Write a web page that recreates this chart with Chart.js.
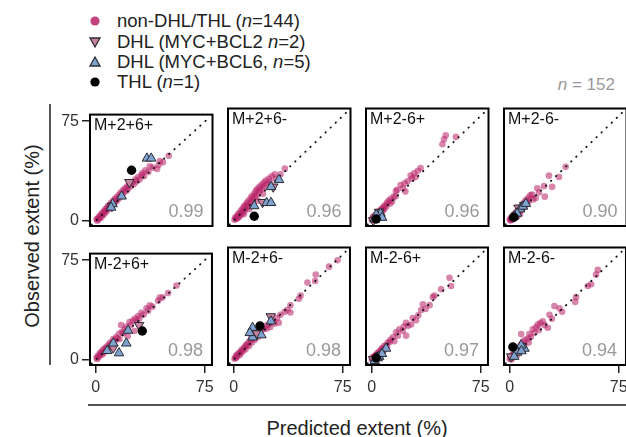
<!DOCTYPE html>
<html>
<head>
<meta charset="utf-8">
<script src="https://cdn.jsdelivr.net/npm/chart.js@4"></script>
<style>
  html, body { margin: 0; padding: 0; background: #fff; }
  body { width: 626px; height: 437px; position: relative; overflow: hidden;
         font-family: "Liberation Sans", Arial, sans-serif; color: #222; }
  canvas.panel { position: absolute; }
  .leg-row { position: absolute; left: 88px; height: 20px; display: flex; align-items: center; font-size: 18.5px; }
  .leg-row svg { width: 14px; height: 14px; margin-right: 15px; }
  .abs { position: absolute; white-space: nowrap; }
</style>
</head>
<body>
<div class="leg-row" style="top:11px"><svg viewBox="0 0 14 14"><circle cx="7" cy="7" r="4.6" fill="#c2437f"/></svg><span>non-DHL/THL (<i>n</i>=144)</span></div>
<div class="leg-row" style="top:32px"><svg viewBox="0 0 14 14"><polygon points="2,3 12,3 7,12" fill="#c9829f" stroke="#2a2a33" stroke-width="1.3"/></svg><span>DHL (MYC+BCL2 <i>n</i>=2)</span></div>
<div class="leg-row" style="top:52px"><svg viewBox="0 0 14 14"><polygon points="2,11 12,11 7,2" fill="#7fa3d1" stroke="#2a2a33" stroke-width="1.3"/></svg><span>DHL (MYC+BCL6, <i>n</i>=5)</span></div>
<div class="leg-row" style="top:72px"><svg viewBox="0 0 14 14"><circle cx="7" cy="7" r="4.6" fill="#000"/></svg><span>THL (<i>n</i>=1)</span></div>

<div class="abs" style="right:11px; top:75px; font-size:17px; color:#999;"><i>n</i> = 152</div>

<div class="abs" style="left:49px; top:104px; width:1.5px; height:261px; background:#555;"></div>
<div class="abs" style="left:32px; top:236px; font-size:20px; transform:translate(-50%,-50%) rotate(-90deg);">Observed extent (%)</div>
<div class="abs" style="left:88px; top:404px; width:540px; height:1.5px; background:#555;"></div>
<div class="abs" style="left:357px; top:428px; font-size:20px; transform:translate(-50%,-50%);">Predicted extent (%)</div>

<script>
const panelNames = ["M+2+6+", "M+2+6-", "M+2-6+", "M+2-6-", "M-2+6+", "M-2+6-", "M-2-6+", "M-2-6-"];
const rValues = ["0.99", "0.96", "0.96", "0.90", "0.98", "0.98", "0.97", "0.94"];
const tickValues = [0, 75];
const diagLine = [-3, 78];

// non-DHL/THL cases, one list of [predicted, observed] per panel
const otherPts = [
  [[0.5,1],[1,0],[1.5,2],[2,1],[2.5,3.5],[3,2],[3.5,4.5],[4,3],[4.5,6],[5,4.5],[5.5,7],[6,5.5],[6.5,8.5],[7,7],[7.5,9.5],[8,8],[8.5,11],[9,9.5],[9.5,12],[10,10.5],[10.5,13.5],[11,12],[12,15],[12.5,13],[13,16.5],[14,14.5],[14.5,18],[15,16],[16,19.5],[16.5,17.5],[17,21],[18,19.5],[18.5,23],[19,21],[20,24.5],[21,22.5],[21.5,26],[22,24],[23,27.5],[24,26],[25,29],[26,27.5],[27,31],[28,29.5],[29,33],[30,31],[31.4,34.4],[32,36],[33,33.5],[34,38],[36,36.7],[37,41],[39,40],[42,39],[43,42],[44,45],[46,44],[50,49]],
  [[0.5,0.5],[1,2],[1.5,1],[2,3],[2.5,1.5],[3,4.5],[3.5,2.5],[4,5.5],[4.5,3.5],[5,7],[5.5,5],[6,8.5],[6.5,6],[7,10],[7,4.5],[7.5,7.5],[8,11],[8.5,9],[9,12.5],[9.5,10],[10,14],[10.5,8],[11,12],[11.5,16],[12,13.5],[12.5,17.5],[13,15],[13.5,11],[14,19],[14.5,16.5],[15,21],[15.5,18],[16,22.5],[16.5,14],[17,20],[17.5,24],[18,21.5],[19,25.5],[19.5,23],[20,19],[20.5,27],[21,24.5],[22,28.5],[23,26],[24,30],[25,27.5],[26,31.5],[28,33],[29,30],[32,33],[35,37]],
  [[0,0.5],[0.5,0],[0.5,1.5],[1,0.5],[1,2.5],[1.5,1],[2,2],[2,3.5],[2.5,0.5],[2.5,2.5],[3,1.5],[3,4],[3.5,3],[4,2],[4,5],[4.5,3.5],[5,4.5],[5,6.5],[5.5,5.5],[6,4],[6,7.5],[6.5,6],[7,8.5],[7.5,7],[8,9.5],[8.5,8],[9,11],[10,10],[10.5,12.5],[11.5,14],[12.5,12],[13,15.5],[14,13.5],[15,17],[16.3,17.2],[16.5,21],[17.4,21.8],[19.7,25.3],[21.5,23],[23,20.6],[22.5,26.5],[24.5,28],[26.6,32],[27.5,30],[29,33.7],[30,31],[31.5,35.5],[33.5,37.4],[48.4,54.4],[49.5,58],[50.7,60.8],[57.6,59.7]],
  [[0,0.5],[0.5,0],[0.5,1.5],[1,1],[1.5,2.5],[1.5,0.5],[2,2],[2.5,3.5],[2.5,1],[3,2.5],[3,4.5],[3.5,3.5],[4,2],[4,5.5],[4.5,4],[5,6.5],[5,3],[5.5,5],[6,7.5],[6.5,6],[7,9],[7,4.5],[7.5,7.5],[8,10],[8.5,8],[9,11.5],[9.5,9.5],[10,13],[10.5,10.5],[11,14.5],[12,12],[12.5,16],[13,14],[14,18],[15.3,18.4],[16,15],[17.7,16],[18.8,23],[20,20],[23.4,24.5],[24,17],[26.8,32],[29,24],[33.7,31],[38.3,38.3]],
  [[0.5,1.5],[1,0.5],[1.5,3],[2,2],[2.8,5],[3,3.5],[4,6],[4.5,4],[5,7.5],[5.5,5.5],[6.2,8.5],[7,7],[7.5,10],[8,8.5],[9,11.5],[9.5,9.5],[10,13],[11,11],[11.9,13.1],[12,15.5],[13,14],[14,17],[15,16],[16.3,15.4],[16,19.5],[17.4,26.2],[18,21],[19,20],[20,23],[21,25],[22,17.7],[22,22],[23.2,28.4],[24,26],[25.5,29.6],[26.6,21.6],[27,31],[28,29],[29.1,33],[30,31],[31.4,35.3],[33,34],[34.9,38.8],[36,37],[37.2,41],[39,40],[42.9,44.5],[44,46.8],[46,47],[49.8,50.2],[55.5,56]],
  [[0.5,0.5],[1.1,1],[1.5,2.5],[2,1.5],[2.5,3.5],[3.4,4.4],[4,3],[4.5,5.5],[5,4.5],[5.5,7],[6,6],[6.9,7.8],[7.5,9],[8,7],[8.5,10.5],[9.2,10.1],[10,12],[10.5,9.5],[11.5,13.6],[12,15],[12.5,12],[13.8,17],[14.5,14],[15.5,18],[16.5,16],[17,20],[18.4,19.3],[19,22],[20.6,21.6],[21.5,24],[22.5,22],[24.1,25],[25,23],[27.5,27.3],[28,25.5],[29.8,29.6],[31,26.2],[32.1,31.9],[35,34],[37,35.5],[39,33.5],[39,38.7],[44.8,43.3],[46,45.6],[50.7,54.9],[56,56],[56.4,60.6],[65.6,66.3],[71.4,70.9]],
  [[0,0.5],[0.5,-0.5],[0.5,1.5],[1,0.5],[1.5,2],[1.5,0],[2,1],[2.5,2.5],[3,0.5],[3,3.5],[3.5,2],[4,4.5],[4.5,3],[5,5.5],[5.5,4],[6,6.5],[6.5,5],[7,8],[7.6,7.8],[8,6],[8.5,9.5],[9.9,10.1],[10.5,8.5],[11,12],[12.2,12.4],[13,14],[14.5,15.8],[15.5,13],[16.7,19.3],[18,17],[19,21.6],[21.3,20.4],[22,23.5],[23.6,17],[23.6,26.2],[25,24],[27.1,25],[28.2,29.6],[30.5,28],[32,31.5],[34,35.3],[35.2,39.4],[37,36],[39.8,38.8],[42,44.5],[43.1,45.6],[47.7,50.2],[54.6,52.5],[53.5,58.3]],
  [[0,0.5],[0.5,1.5],[1,0],[1,2.5],[1.5,1],[2,3],[2,1.5],[2.5,4],[3,2.5],[3,5],[3.5,3.5],[4,6],[4.5,4.5],[5,7],[5,3],[5.5,5.5],[6,8],[6.5,6.5],[7,9.5],[7.5,7.5],[7.8,18.1],[8,11],[8.5,9],[9,12.5],[10,10.5],[10.5,14],[12.4,14.7],[13,12],[13.5,18.1],[14.5,16],[15.8,21.6],[17,19],[18,23],[19.3,25],[20,21],[21,26],[22.7,27.3],[24,24.5],[26.2,22.6],[27.3,31.9],[29,29],[30.7,38.1],[34.2,36.5],[36,34],[45,41.1],[45.6,44.5],[53.7,52.5],[56,53.7],[59.4,60.6],[60.6,64]]
];

// DHL MYC+BCL2 (down triangles)
const bcl2Pts = [
  [[23,29],[11,11]],
  [[27,24],[19.7,13]],
  [[1,0],[5,6]],
  [[6,9],[10,11]],
  [[29.8,26],[12,9]],
  [[25.5,30.7],[16,18.5]],
  [[1,0],[6,3]],
  [[1,2],[4,6]]
];

// DHL MYC+BCL6 (up triangles)
const bcl6Pts = [
  [[35,47],[38,47],[17.7,18.4],[11.5,12.6],[10.5,10]],
  [[31,29],[25.5,24],[14,10.3],[22.5,12.6],[25.5,12.6]],
  [[2,1],[4,3],[6,5],[3,4],[7,2]],
  [[7,8],[9,10],[11,12],[5,5],[3,3]],
  [[22.2,22],[21,12.4],[12,12.4],[7.8,6.7],[16,5]],
  [[25.5,27.3],[12.9,22.7],[12.9,15.8],[19,17.4],[11,19]],
  [[9.8,7.8],[2,-1],[5,2],[7,4],[4,1]],
  [[10.1,7.8],[7.8,10.1],[5,5],[3,2],[8,6]]
];

// THL
const thlPts = [[24.5,38], [14,3], [3,1], [2.7,2.3], [32,21.6], [18,23.9], [3,1], [2.1,8.9]];

const FONT = "'Liberation Sans', Arial, sans-serif";
const colLefts = [90, 228, 366, 504];
const rowTops = [104, 243];

function toXY(list) {
  return list.map(([x, y]) => ({ x, y }));
}

const panelDecor = {
  id: "panelDecor",
  afterDraw(chart, args, opts) {
    const { ctx, chartArea: a } = chart;
    ctx.save();
    ctx.strokeStyle = "#000";
    ctx.lineWidth = 2;
    ctx.strokeRect(a.left, a.top, a.right - a.left, a.bottom - a.top);
    ctx.fillStyle = "#111";
    ctx.font = `16px ${FONT}`;
    ctx.textAlign = "left";
    ctx.textBaseline = "top";
    ctx.fillText(opts.name, a.left + 4, a.top + 3);
    ctx.fillStyle = "#999";
    ctx.font = `18px ${FONT}`;
    ctx.textAlign = "right";
    ctx.textBaseline = "alphabetic";
    ctx.fillText(opts.r, a.right - 9, a.bottom - 9);
    ctx.restore();
  },
};

function axisOpts(showTicks, isX) {
  return {
    type: "linear",
    min: -4,
    max: 80,
    afterBuildTicks: (axis) => { axis.ticks = tickValues.map((v) => ({ value: v })); },
    afterFit: (axis) => {
      if (isX) axis.height = 30;
      else axis.width = 40;
    },
    border: { display: false },
    grid: {
      display: showTicks,
      drawOnChartArea: false,
      drawTicks: true,
      tickLength: 8,
      color: "#222",
      lineWidth: 1.5,
    },
    ticks: {
      display: showTicks,
      color: "#333",
      padding: isX ? 5 : 3,
      font: { family: FONT, size: 16 },
      maxRotation: 0,
    },
  };
}

panelNames.forEach((name, i) => {
  const row = Math.floor(i / 4);
  const col = i % 4;
  const canvas = document.createElement("canvas");
  canvas.className = "panel";
  canvas.width = 169;
  canvas.height = 154;
  canvas.style.left = `${colLefts[col] - 40}px`;
  canvas.style.top = `${rowTops[row] - 2}px`;
  document.body.appendChild(canvas);

  new Chart(canvas, {
    type: "scatter",
    data: {
      datasets: [
        {
          label: "THL",
          data: toXY([thlPts[i]]),
          pointStyle: "circle",
          pointRadius: 4.7,
          backgroundColor: "#000",
          borderWidth: 0,
        },
        {
          label: "DHL (MYC+BCL6)",
          data: toXY(bcl6Pts[i]),
          pointStyle: "triangle",
          pointRadius: 5.5,
          backgroundColor: "#7fa3d1",
          borderColor: "#2a2a33",
          borderWidth: 1,
        },
        {
          label: "DHL (MYC+BCL2)",
          data: toXY(bcl2Pts[i]),
          pointStyle: "triangle",
          rotation: 180,
          pointRadius: 5.5,
          backgroundColor: "#c9829f",
          borderColor: "#2a2a33",
          borderWidth: 1,
        },
        {
          type: "line",
          label: "identity",
          data: toXY([[diagLine[0], diagLine[0]], [diagLine[1], diagLine[1]]]),
          borderColor: "#111",
          borderWidth: 1.8,
          borderDash: [0.5, 6.5],
          borderCapStyle: "round",
          pointRadius: 0,
          fill: false,
        },
        {
          label: "non-DHL/THL",
          data: toXY(otherPts[i]),
          pointStyle: "circle",
          pointRadius: 3.3,
          backgroundColor: "rgba(184,32,104,0.55)",
          borderWidth: 0,
        },
      ],
    },
    options: {
      responsive: false,
      animation: false,
      devicePixelRatio: 1,
      events: [],
      layout: { padding: { top: 2, right: 6, left: 0, bottom: 0 } },
      plugins: {
        legend: { display: false },
        tooltip: { enabled: false },
        panelDecor: { name, r: rValues[i] },
      },
      scales: {
        x: axisOpts(row === 1, true),
        y: axisOpts(col === 0, false),
      },
    },
    plugins: [panelDecor],
  });
});
</script>
</body>
</html>
